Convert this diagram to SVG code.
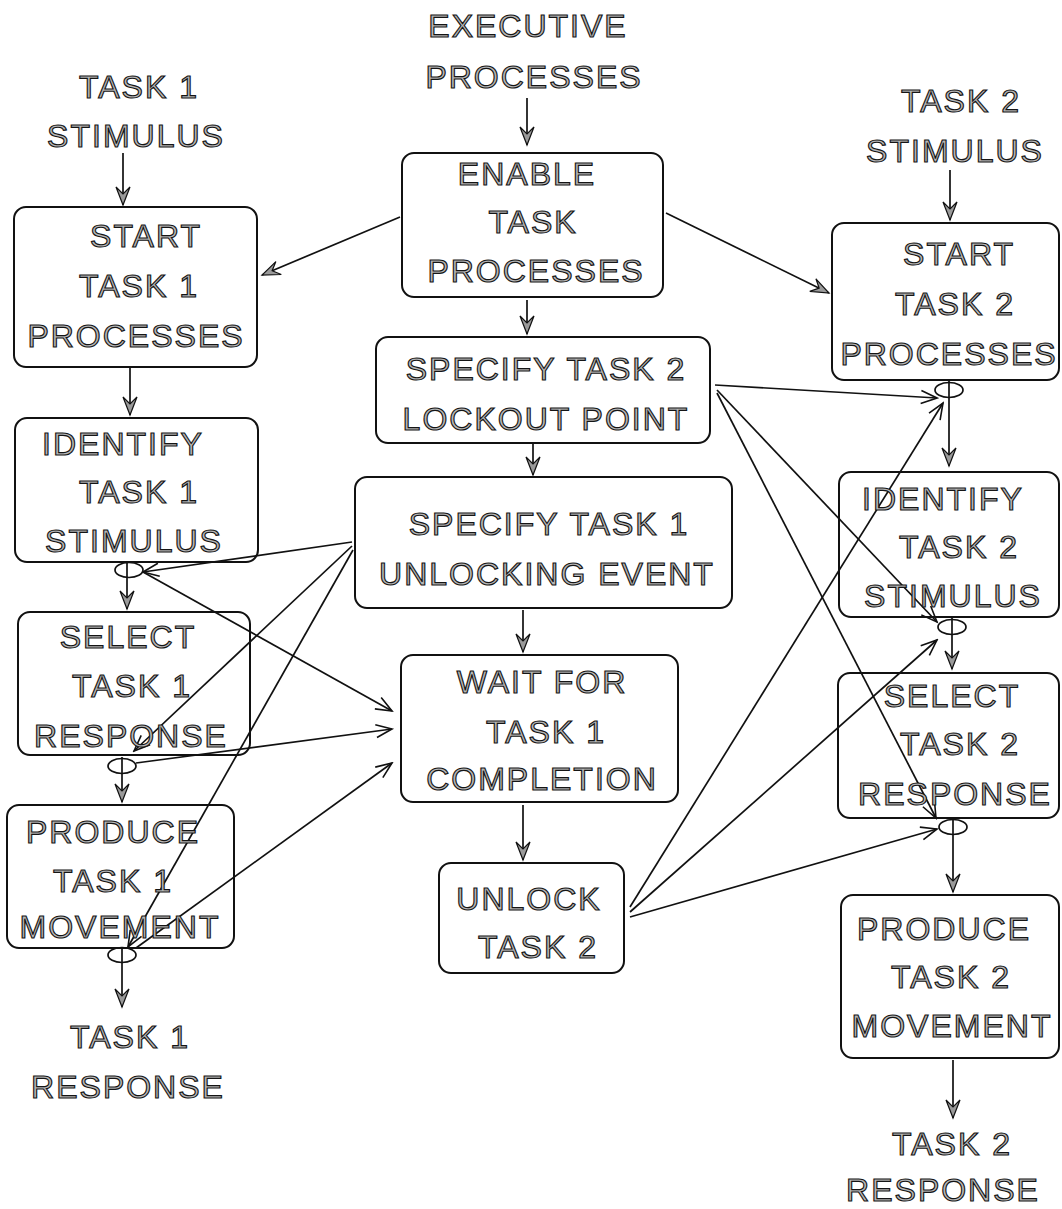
<svg xmlns="http://www.w3.org/2000/svg" width="1062" height="1209" viewBox="0 0 1062 1209">
<style>
.box{fill:none;stroke:#111;stroke-width:2}
.t{font-family:"Liberation Sans",Arial,sans-serif;font-size:32px;letter-spacing:2px;text-anchor:middle;fill:#b8b8b8;stroke:#151515;stroke-width:1.15;paint-order:fill}
.c{fill:none;stroke:#111;stroke-width:1.7}
.flow{marker-end:url(#ah)}
.gate{marker-end:url(#ch)}
.el{fill:none;stroke:#111;stroke-width:1.7}
</style>
<defs>
<marker id="ah" markerUnits="userSpaceOnUse" viewBox="-20 -9 22 18" refX="0" refY="0" markerWidth="22" markerHeight="18" orient="auto">
<path d="M-18,-7 L0,0 L-18,7 L-11,0 Z" fill="#9a9a9a" stroke="#111" stroke-width="1.2" stroke-linejoin="miter"/>
</marker>
<marker id="ch" markerUnits="userSpaceOnUse" viewBox="-20 -9 22 18" refX="0" refY="0" markerWidth="22" markerHeight="18" orient="auto">
<path d="M-16,-6.5 L0,0 L-16,6.5" fill="none" stroke="#111" stroke-width="1.6"/>
</marker>
</defs>
<rect width="1062" height="1209" fill="#fff"/>

<g id="connectors">
<line class="c flow" x1="527" y1="98" x2="527" y2="145"/>
<line class="c flow" x1="123" y1="153" x2="123" y2="205"/>
<line class="c flow" x1="950" y1="170" x2="950" y2="220"/>
<line class="c flow" x1="400" y1="217" x2="262" y2="275"/>
<line class="c flow" x1="666" y1="213" x2="829" y2="293"/>
<line class="c flow" x1="527" y1="300" x2="527" y2="334"/>
<line class="c flow" x1="533" y1="443" x2="533" y2="475"/>
<line class="c flow" x1="523" y1="610" x2="523" y2="652"/>
<line class="c flow" x1="523" y1="805" x2="523" y2="860"/>
<line class="c flow" x1="130" y1="367" x2="130" y2="415"/>
<line class="c flow" x1="127" y1="562" x2="127" y2="609"/>
<line class="c flow" x1="122" y1="757" x2="122" y2="802"/>
<line class="c flow" x1="122" y1="948" x2="122" y2="1007"/>
<line class="c flow" x1="949" y1="380" x2="949" y2="466"/>
<line class="c flow" x1="952" y1="617" x2="952" y2="669"/>
<line class="c flow" x1="953" y1="818" x2="953" y2="892"/>
<line class="c flow" x1="953" y1="1060" x2="953" y2="1118"/>
<line class="c gate" x1="352" y1="542" x2="143" y2="572"/>
<line class="c gate" x1="352" y1="546" x2="134" y2="751"/>
<line class="c gate" x1="353" y1="550" x2="128" y2="947"/>
<line class="c gate" x1="143" y1="572" x2="392" y2="711"/>
<line class="c gate" x1="136" y1="763" x2="392" y2="729"/>
<line class="c gate" x1="136" y1="948" x2="392" y2="763"/>
<line class="c gate" x1="715" y1="385" x2="937" y2="398"/>
<line class="c gate" x1="717" y1="390" x2="937" y2="622"/>
<line class="c gate" x1="717" y1="393" x2="936" y2="818"/>
<line class="c gate" x1="630" y1="907" x2="943" y2="403"/>
<line class="c gate" x1="630" y1="912" x2="937" y2="640"/>
<line class="c gate" x1="630" y1="917" x2="937" y2="829"/>
<ellipse class="el" cx="129" cy="570" rx="14" ry="7.5"/>
<ellipse class="el" cx="122" cy="766" rx="14" ry="7.5"/>
<ellipse class="el" cx="122" cy="955" rx="14" ry="7.5"/>
<ellipse class="el" cx="949" cy="390" rx="14" ry="7.5"/>
<ellipse class="el" cx="952" cy="627" rx="14" ry="7.5"/>
<ellipse class="el" cx="953" cy="827" rx="14" ry="7.5"/>
</g>

<g id="exec-label">
<text class="t" x="528" y="37">EXECUTIVE</text>
<text class="t" x="534" y="88">PROCESSES</text>
</g>
<g id="task1-stimulus">
<text class="t" x="139" y="98">TASK 1</text>
<text class="t" x="136" y="147">STIMULUS</text>
</g>
<g id="task2-stimulus">
<text class="t" x="961" y="112">TASK 2</text>
<text class="t" x="955" y="162">STIMULUS</text>
</g>

<g id="start-task1">
<rect class="box" x="14" y="207" width="243" height="160" rx="12"/>
<text class="t" x="146" y="247">START</text>
<text class="t" x="139" y="297">TASK 1</text>
<text class="t" x="136" y="347">PROCESSES</text>
</g>
<g id="identify-task1">
<rect class="box" x="15" y="418" width="243" height="144" rx="12"/>
<text class="t" x="123" y="455">IDENTIFY</text>
<text class="t" x="139" y="503">TASK 1</text>
<text class="t" x="134" y="552">STIMULUS</text>
</g>
<g id="select-task1">
<rect class="box" x="18" y="612" width="232" height="143" rx="12"/>
<text class="t" x="128" y="648">SELECT</text>
<text class="t" x="132" y="697">TASK 1</text>
<text class="t" x="131" y="747">RESPONSE</text>
</g>
<g id="produce-task1">
<rect class="box" x="7" y="805" width="227" height="143" rx="12"/>
<text class="t" x="113" y="843">PRODUCE</text>
<text class="t" x="113" y="892">TASK 1</text>
<text class="t" x="120" y="938">MOVEMENT</text>
</g>
<g id="task1-response">
<text class="t" x="130" y="1048">TASK 1</text>
<text class="t" x="128" y="1098">RESPONSE</text>
</g>

<g id="enable">
<rect class="box" x="402" y="153" width="261" height="144" rx="12"/>
<text class="t" x="527" y="185">ENABLE</text>
<text class="t" x="533" y="233">TASK</text>
<text class="t" x="536" y="282">PROCESSES</text>
</g>
<g id="specify-task2">
<rect class="box" x="376" y="337" width="334" height="106" rx="12"/>
<text class="t" x="546" y="380">SPECIFY TASK 2</text>
<text class="t" x="546" y="430">LOCKOUT POINT</text>
</g>
<g id="specify-task1">
<rect class="box" x="355" y="477" width="377" height="131" rx="12"/>
<text class="t" x="549" y="535">SPECIFY TASK 1</text>
<text class="t" x="547" y="585">UNLOCKING EVENT</text>
</g>
<g id="wait">
<rect class="box" x="401" y="655" width="277" height="147" rx="12"/>
<text class="t" x="542" y="693">WAIT FOR</text>
<text class="t" x="546" y="743">TASK 1</text>
<text class="t" x="542" y="790">COMPLETION</text>
</g>
<g id="unlock">
<rect class="box" x="439" y="863" width="185" height="110" rx="12"/>
<text class="t" x="529" y="910">UNLOCK</text>
<text class="t" x="538" y="958">TASK 2</text>
</g>

<g id="start-task2">
<rect class="box" x="832" y="223" width="227" height="157" rx="12"/>
<text class="t" x="959" y="265">START</text>
<text class="t" x="955" y="315">TASK 2</text>
<text class="t" x="949" y="365">PROCESSES</text>
</g>
<g id="identify-task2">
<rect class="box" x="839" y="472" width="220" height="145" rx="12"/>
<text class="t" x="943" y="510">IDENTIFY</text>
<text class="t" x="959" y="558">TASK 2</text>
<text class="t" x="953" y="607">STIMULUS</text>
</g>
<g id="select-task2">
<rect class="box" x="838" y="673" width="221" height="145" rx="12"/>
<text class="t" x="952" y="707">SELECT</text>
<text class="t" x="960" y="755">TASK 2</text>
<text class="t" x="955" y="805">RESPONSE</text>
</g>
<g id="produce-task2">
<rect class="box" x="841" y="895" width="218" height="163" rx="12"/>
<text class="t" x="944" y="940">PRODUCE</text>
<text class="t" x="951" y="988">TASK 2</text>
<text class="t" x="952" y="1037">MOVEMENT</text>
</g>
<g id="task2-response">
<text class="t" x="952" y="1155">TASK 2</text>
<text class="t" x="943" y="1201">RESPONSE</text>
</g>
</svg>
